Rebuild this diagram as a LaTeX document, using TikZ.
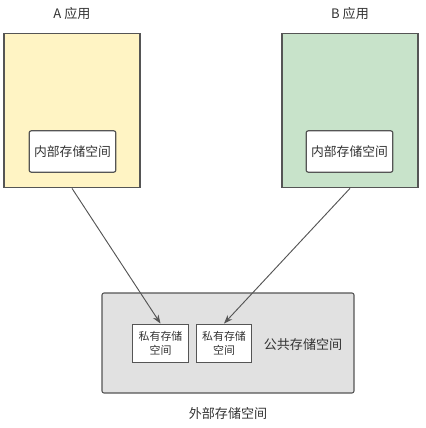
\documentclass[tikz,border=0pt]{standalone}
\usepackage{fontspec}
\setmainfont{Noto Sans CJK SC}
\usetikzlibrary{arrows.meta, positioning}
\definecolor{appyellow}{HTML}{FFF4C4}
\definecolor{appgreen}{HTML}{C8E3CA}
\definecolor{extgray}{HTML}{E1E1E1}
\definecolor{linegray}{HTML}{555555}
\definecolor{txtgray}{HTML}{333333}

\begin{document}
\begin{tikzpicture}[
  x=0.75pt, y=-0.75pt,
  appbox/.style={rectangle, draw=linegray, line width=0.8pt, minimum width=102pt, minimum height=116pt},
  innerbox/.style={rectangle, draw=linegray, fill=white, rounded corners=1.5pt, line width=0.9pt, minimum width=65pt, minimum height=31pt, font=\fontsize{9.6}{11}\selectfont, text=txtgray},
  privbox/.style={rectangle, draw=linegray, fill=white, line width=0.9pt, minimum width=41.5pt, minimum height=29pt, align=center, font=\fontsize{8.2}{10.5}\selectfont, text=txtgray, inner sep=1pt},
  label/.style={font=\fontsize{9.8}{11}\selectfont, text=txtgray},
  arrow/.style={-{Stealth[length=2.3mm, width=1.7mm]}, draw=linegray, line width=0.7pt}
]
  \useasboundingbox (0,0) rectangle (425,428);

  % Two apps
  \node[appbox, fill=appyellow] (appA) at (72,110.5) {};
  \node[appbox, fill=appgreen] (appB) at (350,110.5) {};
  \node[label, above=6pt of appA] (labA) {A 应用};
  \node[label, above=6pt of appB] (labB) {B 应用};
  \node[innerbox] (innerA) at (72.5,151.5) {内部存储空间};
  \node[innerbox] (innerB) at (349.5,151.5) {内部存储空间};

  % External storage
  \node[rectangle, draw=linegray, fill=extgray, rounded corners=1.5pt, line width=0.8pt, minimum width=189pt, minimum height=75pt] (ext) at (228,343) {};
  \node[privbox] (privA) at (160.5,343.5) {私有存储\\空间};
  \node[privbox] (privB) at (224,343.5) {私有存储\\空间};
  \node[label] (pub) at (303,344) {公共存储空间};
  \node[label, below=7pt of ext] (extlab) {外部存储空间};

  \draw[arrow] (appA.south) -- (privA.north);
  \draw[arrow] (appB.south) -- (privB.north);
\end{tikzpicture}
\end{document}
